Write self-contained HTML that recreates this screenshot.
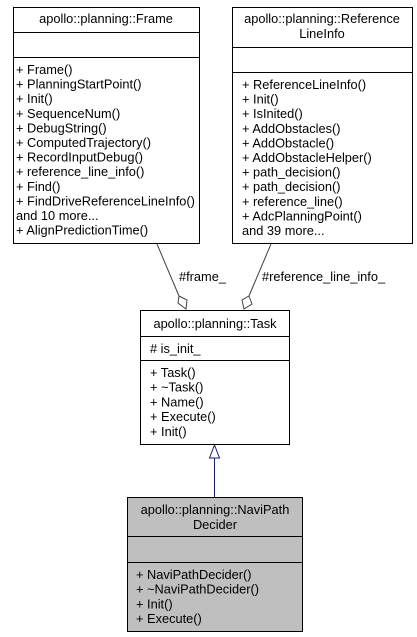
<!DOCTYPE html>
<html><head><meta charset="utf-8"><style>
html,body{margin:0;padding:0;background:#fff;}
svg{display:block;}
text{font-family:"Liberation Sans",Arial,sans-serif;font-size:12.8px;fill:#000;}
</style></head><body>
<svg width="417" height="637" viewBox="0 0 417 637" xmlns="http://www.w3.org/2000/svg">
<g stroke="#000" stroke-width="1" fill="#fff">
<rect x="13.5" y="7.5" width="186" height="236"/>
<line x1="13.5" y1="32.5" x2="199.5" y2="32.5"/>
<line x1="13.5" y1="57.5" x2="199.5" y2="57.5"/>
<rect x="232.5" y="7.5" width="180" height="236"/>
<line x1="232.5" y1="47.5" x2="412.5" y2="47.5"/>
<line x1="232.5" y1="72.5" x2="412.5" y2="72.5"/>
<rect x="140.5" y="310.5" width="149" height="134"/>
<line x1="140.5" y1="336.5" x2="289.5" y2="336.5"/>
<line x1="140.5" y1="360.5" x2="289.5" y2="360.5"/>
<rect x="127.5" y="497.5" width="175" height="134" fill="#bfbfbf"/>
<line x1="127.5" y1="536.5" x2="302.5" y2="536.5"/>
<line x1="127.5" y1="562.5" x2="302.5" y2="562.5"/>
</g>
<g stroke="#404040" stroke-width="1" fill="#fff">
<line x1="157" y1="244" x2="179" y2="296"/>
<polygon points="179,296 187,300 186,309 178,303"/>
<line x1="271" y1="244" x2="249" y2="296"/>
<polygon points="249,296 252,304 244,309 242,300"/>
</g>
<g stroke="#191970" stroke-width="1" fill="#fff">
<line x1="214.5" y1="458" x2="214.5" y2="497"/>
<polygon points="214.5,445 219.5,458 209.5,458"/>
</g>
<text x="106" y="23" text-anchor="middle">apollo::planning::Frame</text>
<g>
<text x="16" y="74">+ Frame()</text>
<text x="16" y="88.6">+ PlanningStartPoint()</text>
<text x="16" y="103.2">+ Init()</text>
<text x="16" y="117.8">+ SequenceNum()</text>
<text x="16" y="132.4">+ DebugString()</text>
<text x="16" y="147">+ ComputedTrajectory()</text>
<text x="16" y="161.6">+ RecordInputDebug()</text>
<text x="16" y="176.2">+ reference_line_info()</text>
<text x="16" y="190.8">+ Find()</text>
<text x="16" y="205.4">+ FindDriveReferenceLineInfo()</text>
<text x="16" y="220">and 10 more...</text>
<text x="16" y="234.6">+ AlignPredictionTime()</text>
</g>
<text x="322" y="23" text-anchor="middle">apollo::planning::Reference</text>
<text x="322" y="38" text-anchor="middle">LineInfo</text>
<g>
<text x="242" y="89">+ ReferenceLineInfo()</text>
<text x="242" y="103.6">+ Init()</text>
<text x="242" y="118.2">+ IsInited()</text>
<text x="242" y="132.8">+ AddObstacles()</text>
<text x="242" y="147.4">+ AddObstacle()</text>
<text x="242" y="162">+ AddObstacleHelper()</text>
<text x="242" y="176.6">+ path_decision()</text>
<text x="242" y="191.2">+ path_decision()</text>
<text x="242" y="205.8">+ reference_line()</text>
<text x="242" y="220.4">+ AdcPlanningPoint()</text>
<text x="242" y="235">and 39 more...</text>
</g>
<text x="179" y="281">#frame_</text>
<text x="262" y="281">#reference_line_info_</text>
<text x="215" y="328" text-anchor="middle">apollo::planning::Task</text>
<text x="150" y="353"># is_init_</text>
<text x="150" y="377">+ Task()</text>
<text x="150" y="391.7">+ ~Task()</text>
<text x="150" y="406.4">+ Name()</text>
<text x="150" y="421.1">+ Execute()</text>
<text x="150" y="435.8">+ Init()</text>
<text x="215" y="514" text-anchor="middle">apollo::planning::NaviPath</text>
<text x="215" y="529" text-anchor="middle">Decider</text>
<text x="136" y="579">+ NaviPathDecider()</text>
<text x="136" y="593.7">+ ~NaviPathDecider()</text>
<text x="136" y="608.4">+ Init()</text>
<text x="136" y="623.1">+ Execute()</text>
</svg>
</body></html>
